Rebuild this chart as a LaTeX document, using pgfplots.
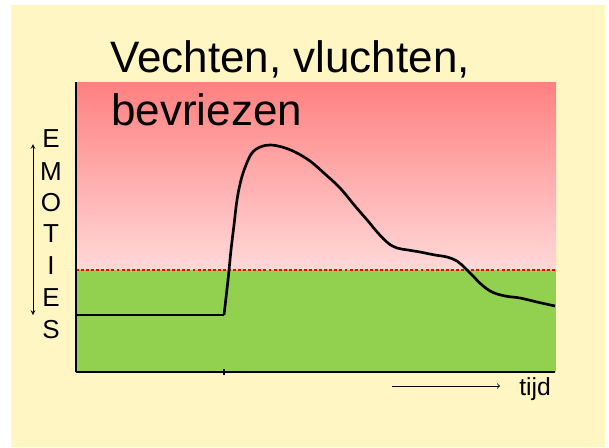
\documentclass[border=0pt]{standalone}
\usepackage{fontspec}
\setmainfont{Liberation Sans}
\usepackage{pgfplots}
\pgfplotsset{compat=1.18}
\definecolor{bgyellow}{RGB}{255,246,196}
\definecolor{redtop}{RGB}{255,128,128}
\definecolor{redbot}{RGB}{255,216,216}
\definecolor{grn}{RGB}{146,208,80}
\begin{document}
\begin{tikzpicture}
\begin{axis}[
  x=0.75pt, y=0.75pt,
  xmin=76, xmax=555, ymin=75, ymax=365,
  axis lines*=left,
  axis line style={line width=1.6pt, black},
  xtick={224}, xticklabels={},
  ytick=\empty,
  tick align=center,
  major tick length=4.5pt,
  tick style={line width=1.2pt, black},
  clip=false,
  axis on top,
]
% page background
\addplot[draw=none, fill=white] coordinates {(0,0)(609,0)(609,447)(0,447)} -- cycle;
\addplot[draw=none, fill=bgyellow] coordinates {(11,0)(605,0)(605,442)(11,442)} -- cycle;
% regions
\addplot[draw=none, shading=axis, top color=redtop, bottom color=redbot] coordinates {(76,177)(556,177)(556,365)(76,365)} -- cycle;
\addplot[draw=none, fill=grn] coordinates {(76,75)(556,75)(556,177)(76,177)} -- cycle;
\addplot[red, line width=1.7pt, dash pattern=on 2.2pt off 1.6pt] coordinates {(76,177)(556,177)};
% curve
\addplot[black, line width=2pt] coordinates {(76,132)(224,132)};
\addplot[black, line width=2pt, smooth, tension=0.6] coordinates {
(224,132)(228,167)(231,197)(234,222)(237,247)(241,267)(246,282)(252,294)(260,300)(270,302)
(282,300)(295,295)(310,286)(325,273)(340,259)(355,241)(368,226)(378,214)(388,204)(397,199)(408,197)
(420,195)(435,192)(447,190)(457,186)(465,179)(473,171)(482,162)(492,155)(505,151)(520,149)(537,145)(555,141)};
% title
\node[anchor=base west, font=\fontsize{33}{40}\selectfont, inner sep=0pt] at (axis cs:110,375) {Vechten, vluchten,};
\node[anchor=base west, font=\fontsize{33}{40}\selectfont, inner sep=0pt] at (axis cs:111,322) {bevriezen};
% EMOTIES
\node[font=\fontsize{19.5}{22}\selectfont, inner sep=0pt] at (axis cs:51,308) {E};
\node[font=\fontsize{19.5}{22}\selectfont, inner sep=0pt] at (axis cs:51,275) {M};
\node[font=\fontsize{19.5}{22}\selectfont, inner sep=0pt] at (axis cs:51,244) {O};
\node[font=\fontsize{19.5}{22}\selectfont, inner sep=0pt] at (axis cs:51,213) {T};
\node[font=\fontsize{19.5}{22}\selectfont, inner sep=0pt] at (axis cs:51,181) {I};
\node[font=\fontsize{19.5}{22}\selectfont, inner sep=0pt] at (axis cs:51,149) {E};
\node[font=\fontsize{19.5}{22}\selectfont, inner sep=0pt] at (axis cs:51,117) {S};
\draw[<->, >=stealth, line width=0.6pt] (axis cs:33,303) -- (axis cs:33,132);
% tijd
\node[anchor=base west, font=\fontsize{18.5}{21}\selectfont, inner sep=0pt] at (axis cs:519,52) {tijd};
\draw[->, >=to, line width=0.6pt] (axis cs:392,61) -- (axis cs:500,61);
\end{axis}
\end{tikzpicture}
\end{document}
